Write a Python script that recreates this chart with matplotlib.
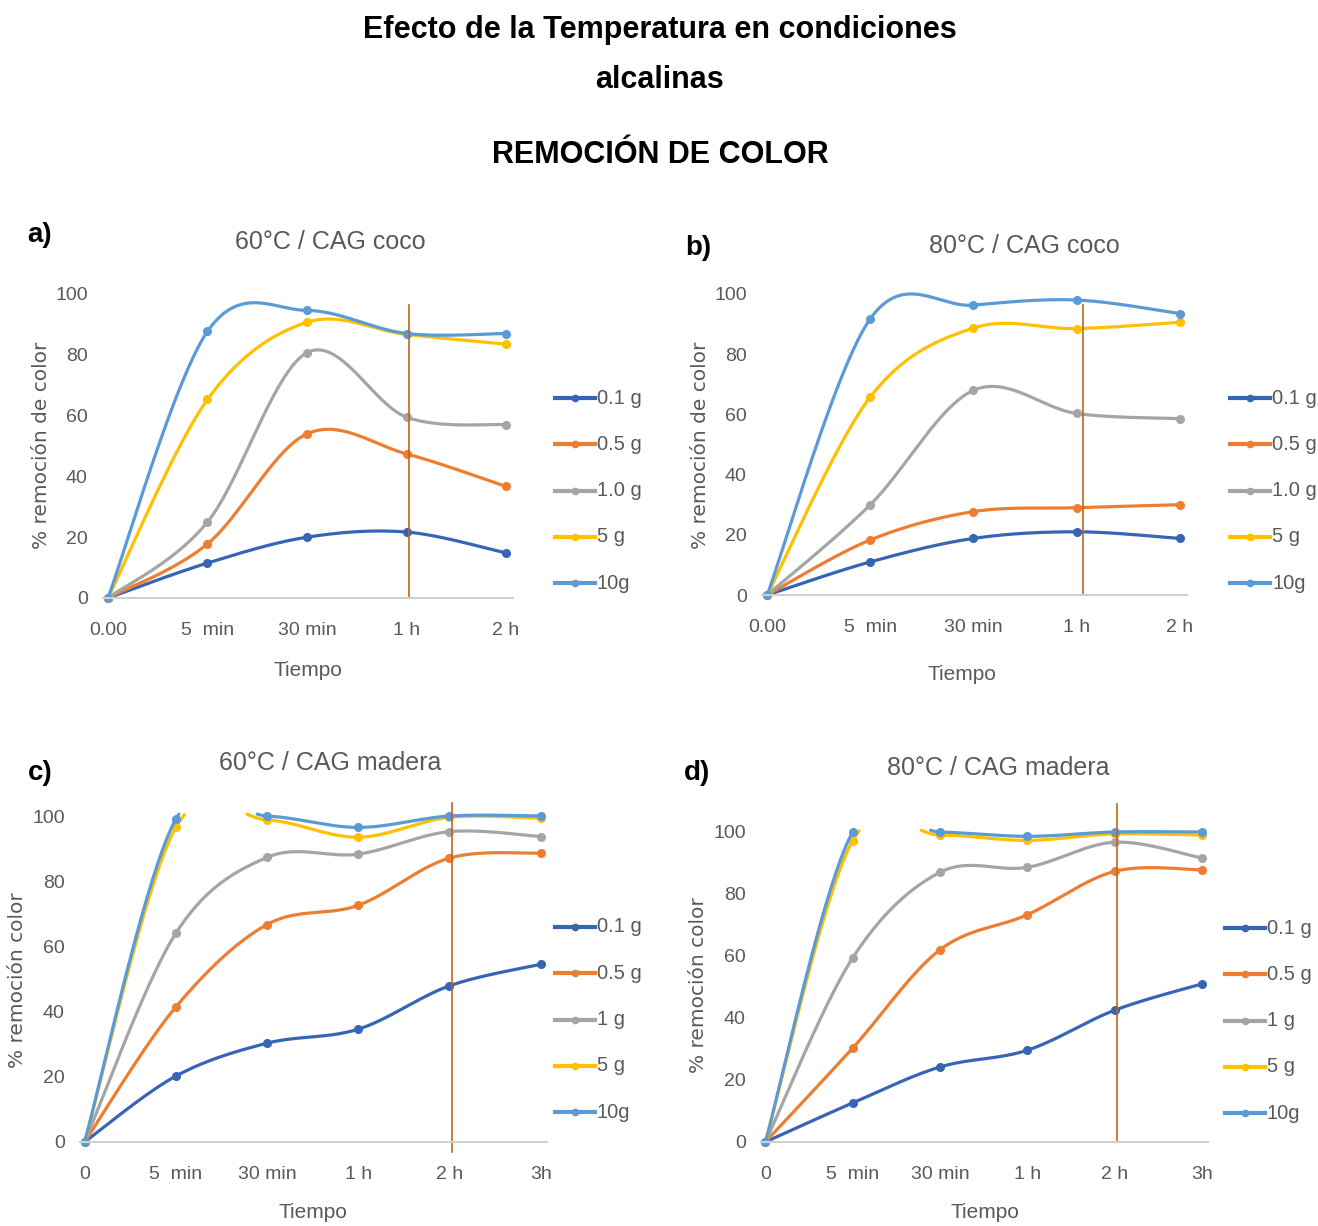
import numpy as np
import matplotlib
matplotlib.use('Agg')
import matplotlib.pyplot as plt
from matplotlib.lines import Line2D

plt.rcParams['font.family'] = ['Liberation Sans Narrow', 'Liberation Sans', 'DejaVu Sans']

# Time categories
time_coco = ['0.00', '5  min', '30 min', '1 h', '2 h']
time_madera = ['0', '5  min', '30 min', '1 h', '2 h', '3h']

# Series labels
labels_coco = ['0.1 g', '0.5 g', '1.0 g', '5 g', '10g']
labels_madera = ['0.1 g', '0.5 g', '1 g', '5 g', '10g']

# % color removal, one row per dose (0.1, 0.5, 1, 5, 10 g)
coco_60 = [[0, 11.5, 20.0, 21.7, 14.8],
           [0, 17.8, 54.0, 47.4, 36.7],
           [0, 25.0, 80.7, 59.5, 57.0],
           [0, 65.3, 90.7, 86.7, 83.5],
           [0, 87.7, 94.6, 87.0, 87.0]]
coco_80 = [[0, 11.0, 18.8, 21.0, 18.8],
           [0, 18.3, 27.7, 29.0, 30.0],
           [0, 30.0, 68.0, 60.3, 58.6],
           [0, 65.8, 88.7, 88.5, 90.6],
           [0, 91.8, 96.3, 98.0, 93.5]]
madera_60 = [[0, 20.2, 30.3, 34.6, 47.9, 54.5],
             [0, 41.4, 66.7, 72.6, 87.1, 88.6],
             [0, 64.0, 87.3, 88.3, 95.2, 93.7],
             [0, 96.5, 98.8, 93.5, 99.6, 99.3],
             [0, 99.0, 100.0, 96.5, 100.0, 100.0]]
madera_80 = [[0, 12.6, 24.2, 29.6, 42.5, 51.0],
             [0, 30.3, 62.0, 73.3, 87.3, 87.8],
             [0, 59.4, 87.0, 88.6, 96.7, 91.6],
             [0, 97.2, 99.0, 97.3, 99.4, 99.0],
             [0, 100.0, 100.0, 98.6, 100.0, 100.0]]

colors = ['#3565B4', '#ED7D31', '#A5A5A5', '#FFC000', '#5B9BD5']
W, H = 1318, 1226
GRAY = '#595959'


def px_axes(fig, l, t, r, b):
    return fig.add_axes([l / W, 1 - b / H, (r - l) / W, (b - t) / H])


def ftext(fig, x, y, s, **kw):
    return fig.text(x / W, 1 - y / H, s, **kw)


def smooth(vals, n=150):
    # Catmull-Rom spline through the points (like Excel's smoothed line)
    y = np.asarray(vals, float)
    P = np.column_stack([np.arange(len(y), dtype=float), y])
    P = np.vstack([P[0], P, P[-1]])
    t = np.linspace(0, 1, n)[:, None]
    segs = []
    for i in range(1, len(P) - 2):
        p0, p1, p2, p3 = P[i - 1], P[i], P[i + 1], P[i + 2]
        segs.append(0.5 * (2 * p1 + (p2 - p0) * t
                           + (2 * p0 - 5 * p1 + 4 * p2 - p3) * t ** 2
                           + (-p0 + 3 * p1 - 3 * p2 + p3) * t ** 3))
    c = np.vstack(segs)
    return c[:, 0], c[:, 1]


def panel(fig, box, data, cats, labels, vline, letter, title, ylabel, texts):
    ax = px_axes(fig, *box)
    n = len(cats)
    for vals, col in zip(data, colors):
        xs, ys = smooth(vals)
        ys[ys > 100.6] = np.nan  # curve leaves the plot area above 100
        ax.plot(xs, ys, color=col, lw=2.3, clip_on=False, solid_capstyle='round')
        ax.plot(range(n), vals, 'o', color=col, ms=5.5, clip_on=False)
    vx, vy0, vy1 = vline
    ax.plot([vx, vx], [vy0, vy1], color='#C0661A', lw=1.2, clip_on=False)
    ax.set_xlim(-0.05, n - 1 + 0.07)
    ax.set_ylim(0, 100)
    for s in ['top', 'right', 'left']:
        ax.spines[s].set_visible(False)
    ax.spines['bottom'].set_color('#D0D0D0')
    ax.spines['bottom'].set_linewidth(1.5)
    ax.set_xticks(range(n))
    ax.set_xticklabels(cats)
    ax.set_yticks(range(0, 101, 20))
    ax.tick_params(axis='both', length=0, labelsize=14, labelcolor=GRAY)
    ax.tick_params(axis='x', pad=17)
    ax.tick_params(axis='y', pad=11)
    (lx, ly), (tx, ty), (yx, yy), (xx, xy), (gx, gy) = texts
    ftext(fig, lx, ly, letter, fontsize=20, fontweight='bold', ha='center', va='center')
    ftext(fig, tx, ty, title, fontsize=18, color=GRAY, ha='center', va='center')
    ftext(fig, yx, yy, ylabel, fontsize=14.5, color=GRAY, ha='center', va='center',
          rotation=90, family='DejaVu Sans')
    ftext(fig, xx, xy, 'Tiempo', fontsize=15, color=GRAY, ha='center', va='center')
    # legend
    for i, (lab, col) in enumerate(zip(labels, colors)):
        y = gy + i * 46.3
        fig.add_artist(Line2D([gx / W, (gx + 40) / W], [1 - y / H, 1 - y / H],
                              color=col, lw=3, transform=fig.transFigure))
        fig.add_artist(Line2D([(gx + 20) / W], [1 - y / H], marker='o', ms=4.5,
                              color=col, transform=fig.transFigure))
        ftext(fig, gx + 42, y, lab, fontsize=14.5, color=GRAY, ha='left', va='center')
    return ax


fig = plt.figure(figsize=(W / 100, H / 100), dpi=100)

ftext(fig, 660, 30, 'Efecto de la Temperatura en condiciones', fontsize=22,
      fontweight='bold', ha='center', va='center')
ftext(fig, 660, 80, 'alcalinas', fontsize=22, fontweight='bold', ha='center', va='center')
ftext(fig, 660, 155, 'REMOCIÓN DE COLOR', fontsize=22, fontweight='bold',
      ha='center', va='center')

panel(fig, (103, 294, 513, 598), coco_60, time_coco, labels_coco,
      (3.02, 0, 96.4), 'a)', '60°C / CAG coco', '% remoción de color',
      [(40, 235), (330, 242), (42, 445), (308, 670), (555, 398)])
panel(fig, (762, 294, 1187, 595), coco_80, time_coco, labels_coco,
      (3.06, 0, 96.3), 'b)', '80°C / CAG coco', '% remoción de color',
      [(698, 248), (1024, 246), (700, 445), (962, 675), (1230, 398)])
panel(fig, (80, 816, 547, 1142), madera_60, time_madera, labels_madera,
      (4.03, -3, 104), 'c)', '60°C / CAG madera', '% remoción color',
      [(40, 773), (330, 763), (18, 980), (313, 1213), (555, 927)])
panel(fig, (761, 832, 1208, 1142), madera_80, time_madera, labels_madera,
      (4.03, 0, 109), 'd)', '80°C / CAG madera', '% remoción color',
      [(697, 773), (998, 768), (698, 985), (985, 1213), (1225, 928)])

fig.savefig('out.png', dpi=100)
